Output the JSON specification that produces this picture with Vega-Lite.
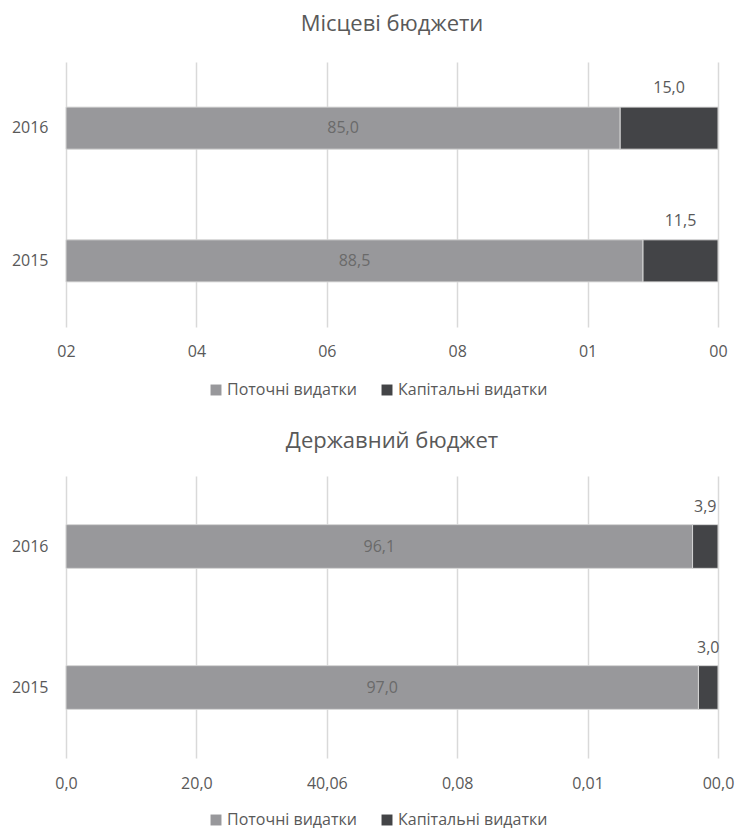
{
  "$schema": "https://vega.github.io/schema/vega-lite/v6.json",
  "padding": {"top": 13, "left": 11, "right": 10, "bottom": 40},
  "spacing": 32,
  "config": {
    "font": "Open Sans",
    "view": {"stroke": null},
    "locale": {"number": {"decimal": ",", "thousands": " ", "grouping": [3], "currency": ["", " ₴"]}},
    "axis": {"labelColor": "#595959", "labelFontSize": 16, "domain": false, "ticks": false, "gridColor": "#d9d9d9", "gridWidth": 1.5, "title": null, "labelFlush": false},
    "legend": {"labelColor": "#595959", "labelFontSize": 16, "symbolType": "square", "symbolSize": 120, "symbolStrokeWidth": 0, "title": null, "orient": "none", "direction": "horizontal", "columnPadding": 22, "symbolOffset": 0, "labelOffset": 3}
  },
  "resolve": {"scale": {"color": "independent"}, "legend": {"color": "independent"}},
  "vconcat": [
    {
      "width": 652,
      "height": 265,
      "title": {"text": "Місцеві бюджети", "fontSize": 22, "fontWeight": "normal", "color": "#595959", "frame": "group", "anchor": "middle", "offset": 26},
      "data": {"values": [
        {"year": "2016", "type": "Поточні видатки", "value": 85.0},
        {"year": "2016", "type": "Капітальні видатки", "value": 15.0},
        {"year": "2015", "type": "Поточні видатки", "value": 88.5},
        {"year": "2015", "type": "Капітальні видатки", "value": 11.5}
      ]},
      "transform": [
        {"stack": "value", "groupby": ["year"], "sort": [{"field": "type", "order": "descending"}], "as": ["v0", "v1"]},
        {"calculate": "(datum.v0 + datum.v1) / 2", "as": "mid"}
      ],
      "encoding": {
        "y": {"field": "year", "type": "nominal", "sort": "descending", "scale": {"paddingInner": 0.683, "paddingOuter": 0.34}, "axis": {"labelPadding": 18}}
      },
      "layer": [
        {
          "mark": {"type": "bar", "stroke": "#d6d6d6", "strokeWidth": 1},
          "encoding": {
            "x": {"field": "v0", "type": "quantitative", "scale": {"domain": [0, 100], "nice": false}, "axis": {"values": [0, 20, 40, 60, 80, 100], "labelPadding": 16, "labelExpr": "['02','04','06','08','01','00'][round(datum.value/20)]"}},
            "x2": {"field": "v1"},
            "color": {"field": "type", "type": "nominal", "scale": {"domain": ["Поточні видатки", "Капітальні видатки"], "range": ["#98989b", "#434447"]}, "legend": {"legendX": 142, "legendY": 320}}
          }
        },
        {
          "transform": [{"filter": "datum.type == 'Поточні видатки'"}],
          "mark": {"type": "text", "fontSize": 16, "color": "#6a6a6a"},
          "encoding": {"x": {"field": "mid", "type": "quantitative"}, "text": {"field": "value", "type": "quantitative", "format": ".1f"}}
        },
        {
          "transform": [{"filter": "datum.type == 'Капітальні видатки'"}],
          "mark": {"type": "text", "fontSize": 16, "color": "#595959", "dy": -40},
          "encoding": {"x": {"field": "mid", "type": "quantitative"}, "text": {"field": "value", "type": "quantitative", "format": ".1f"}}
        }
      ]
    },
    {
      "width": 652,
      "height": 282,
      "title": {"text": "Державний бюджет", "fontSize": 22, "fontWeight": "normal", "color": "#595959", "frame": "group", "anchor": "middle", "offset": 23},
      "data": {"values": [
        {"year": "2016", "type": "Поточні видатки", "value": 96.1},
        {"year": "2016", "type": "Капітальні видатки", "value": 3.9},
        {"year": "2015", "type": "Поточні видатки", "value": 97.0},
        {"year": "2015", "type": "Капітальні видатки", "value": 3.0}
      ]},
      "transform": [
        {"stack": "value", "groupby": ["year"], "sort": [{"field": "type", "order": "descending"}], "as": ["v0", "v1"]},
        {"calculate": "(datum.v0 + datum.v1) / 2", "as": "mid"}
      ],
      "encoding": {
        "y": {"field": "year", "type": "nominal", "sort": "descending", "scale": {"paddingInner": 0.69, "paddingOuter": 0.345}, "axis": {"labelPadding": 18}}
      },
      "layer": [
        {
          "mark": {"type": "bar", "stroke": "#d6d6d6", "strokeWidth": 1},
          "encoding": {
            "x": {"field": "v0", "type": "quantitative", "scale": {"domain": [0, 100], "nice": false}, "axis": {"values": [0, 20, 40, 60, 80, 100], "labelPadding": 17, "labelExpr": "['0,0','20,0','40,06','0,08','0,01','00,0'][round(datum.value/20)]"}},
            "x2": {"field": "v1"},
            "color": {"field": "type", "type": "nominal", "scale": {"domain": ["Поточні видатки", "Капітальні видатки"], "range": ["#98989b", "#434447"]}, "legend": {"legendX": 142, "legendY": 336}}
          }
        },
        {
          "transform": [{"filter": "datum.type == 'Поточні видатки'"}],
          "mark": {"type": "text", "fontSize": 16, "color": "#6a6a6a"},
          "encoding": {"x": {"field": "mid", "type": "quantitative"}, "text": {"field": "value", "type": "quantitative", "format": ".1f"}}
        },
        {
          "transform": [{"filter": "datum.type == 'Капітальні видатки'"}],
          "mark": {"type": "text", "fontSize": 16, "color": "#595959", "dy": -40},
          "encoding": {"x": {"field": "mid", "type": "quantitative"}, "text": {"field": "value", "type": "quantitative", "format": ".1f"}}
        }
      ]
    }
  ]
}
